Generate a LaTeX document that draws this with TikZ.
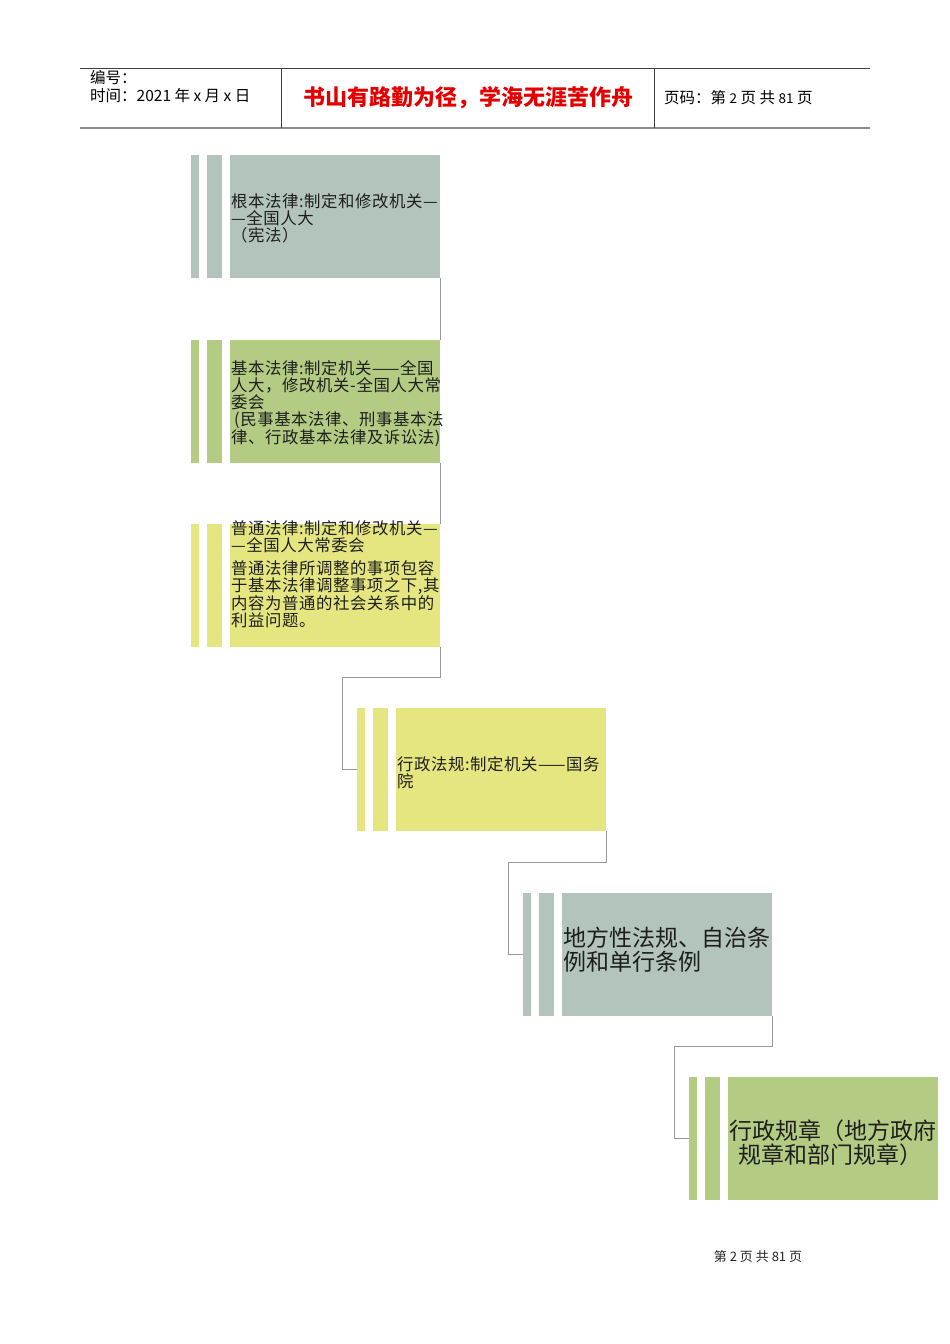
\documentclass[tikz,border=0pt]{standalone}
\usepackage{fontspec}
\setmainfont{Noto Sans CJK SC}
\usetikzlibrary{calc}
\definecolor{sage}{HTML}{B2C4BC}
\definecolor{leaf}{HTML}{B3CB82}
\definecolor{straw}{HTML}{E5E680}
\definecolor{conngray}{HTML}{999999}
\definecolor{txt}{HTML}{1E1E1E}
\tikzset{
  mainbox/.style={draw=none, minimum width=210pt, minimum height=123pt, inner sep=0pt, outer sep=0pt},
  barA/.style={draw=none, minimum width=8pt, minimum height=123pt, inner sep=0pt, outer sep=0pt},
  barB/.style={draw=none, minimum width=15pt, minimum height=123pt, inner sep=0pt, outer sep=0pt},
  conn/.style={draw=conngray, line width=0.9pt},
  smalltxt/.style={anchor=west, inner sep=0pt, align=left, text=txt, font=\fontsize{16.4}{16.8}\selectfont\addfontfeature{LetterSpace=3.5}},
  bigtxt/.style={anchor=west, inner sep=0pt, align=left, text=txt, font=\fontsize{23}{24}\selectfont},
  headtxt/.style={anchor=west, inner sep=0pt, text=black, font=\fontsize{15.5}{17}\selectfont},
}
\begin{document}
\begin{tikzpicture}[x=1pt,y=-1pt]
\useasboundingbox[fill=white] (0,0) rectangle (950,1344);
% header
\draw[draw=black!75, line width=0.8pt] (80,68) -- (870,68);
\draw[draw=black!45, line width=2pt] (80,128) -- (870,128);
\draw[draw=black!75, line width=0.8pt] (281,68) -- (281,128);
\draw[draw=black!75, line width=0.8pt] (654,68) -- (654,128);
\node[headtxt] (h1) at (90,78) {编号：};
\node[headtxt] (h2) at (90,96) {时间：2021 年 x 月 x 日};
\node[anchor=center, inner sep=0pt, text=red!90!black, font=\fontsize{22}{24}\selectfont\bfseries] (h3) at (468,98) {书山有路勤为径，学海无涯苦作舟};
\node[headtxt] (h4) at (664,98) {页码：第 {\fontsize{13.5}{15}\selectfont 2} 页 共 {\fontsize{13.5}{15}\selectfont 81} 页};
% boxes
\node[mainbox, fill=sage] (b1) at (335,216.5) {};
\node[barA, fill=sage] (b1a) at (195,216.5) {};
\node[barB, fill=sage] (b1b) at (214.5,216.5) {};
\node[mainbox, fill=leaf] (b2) at (335,401) {};
\node[barA, fill=leaf] (b2a) at (195,401) {};
\node[barB, fill=leaf] (b2b) at (214.5,401) {};
\node[mainbox, fill=straw] (b3) at (335,585.5) {};
\node[barA, fill=straw] (b3a) at (195,585.5) {};
\node[barB, fill=straw] (b3b) at (214.5,585.5) {};
\node[mainbox, fill=straw] (b4) at (501,769.5) {};
\node[barA, fill=straw] (b4a) at (361,769.5) {};
\node[barB, fill=straw] (b4b) at (380.5,769.5) {};
\node[mainbox, fill=sage] (b5) at (667,954.5) {};
\node[barA, fill=sage] (b5a) at (527,954.5) {};
\node[barB, fill=sage] (b5b) at (546.5,954.5) {};
\node[mainbox, fill=leaf] (b6) at (833,1138.5) {};
\node[barA, fill=leaf] (b6a) at (693,1138.5) {};
\node[barB, fill=leaf] (b6b) at (712.5,1138.5) {};
% connectors
\coordinate (c3) at (342,677);
\coordinate (c4) at (508,862);
\coordinate (c5) at (674,1046);
\draw[conn] (b1.south east) -- (b2.north east);
\draw[conn] (b2.south east) -- (b3.north east);
\draw[conn] (b3.south east) |- (c3) |- (b4a.west);
\draw[conn] (b4.south east) |- (c4) |- (b5a.west);
\draw[conn] (b5.south east) |- (c5) |- (b6a.west);
% texts
\node[smalltxt] (t1) at (231,218.5) {根本法律:制定和修改机关—\\—全国人大\\（宪法）};
\node[smalltxt] (t2) at (231,403.5) {基本法律:制定机关——全国\\人大，修改机关-\hspace{1pt}全国人大常\\委会\\\hspace{3pt}(民事基本法律、刑事基本法\\律、行政基本法律及诉讼法)};
\node[smalltxt] (t3a) at (231,537) {普通法律:制定和修改机关—\\—全国人大常委会};
\node[smalltxt] (t3b) at (231,594) {普通法律所调整的事项包容\\于基本法律调整事项之下,其\\内容为普通的社会关系中的\\利益问题。};
\node[smalltxt] (t4) at (397,772.5) {行政法规:制定机关——国务\\院};
\node[bigtxt] (t5) at (563,950) {地方性法规、自治条\\例和单行条例};
\node[bigtxt] (t6) at (729,1143) {行政规章（地方政府\\\hspace{9pt}规章和部门规章）};
% footer
\node[anchor=center, inner sep=0pt, text=black!85, font=\fontsize{13}{15}\selectfont] (f1) at (758,1257) {第 2 页 共 81 页};
\end{tikzpicture}
\end{document}
